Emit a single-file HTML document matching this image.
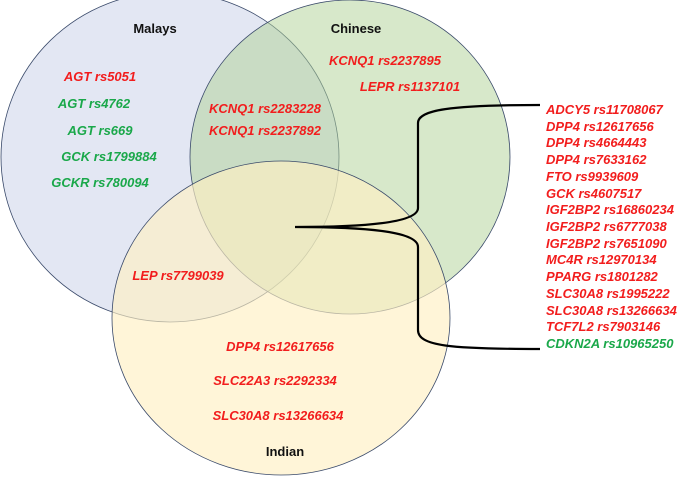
<!DOCTYPE html>
<html><head><meta charset="utf-8"><style>
html,body{margin:0;padding:0;background:#fff}
svg text{font-family:"Liberation Sans",Arial,sans-serif;font-weight:bold;font-size:13px}
.r{fill:#f21d1d;font-style:italic}
.g{fill:#1aa84a;font-style:italic}
.k{fill:#111}
</style></head><body>
<svg width="685" height="476" viewBox="0 0 685 476" xmlns="http://www.w3.org/2000/svg">
<ellipse cx="170" cy="157" rx="169" ry="165" fill="#e3e7f3" stroke="#3a4a6a" stroke-width="0.8"/>
<ellipse cx="350" cy="157" rx="160" ry="157" fill="rgb(175,210,150)" fill-opacity="0.5" stroke="#3a4a6a" stroke-width="0.8"/>
<ellipse cx="281" cy="318" rx="169" ry="157" fill="rgb(255,240,195)" fill-opacity="0.65" stroke="#3a4a6a" stroke-width="0.8"/>
<text class="k" x="155" y="33" text-anchor="middle">Malays</text>
<text class="k" x="356" y="33" text-anchor="middle">Chinese</text>
<text class="k" x="285" y="456" text-anchor="middle">Indian</text>
<g text-anchor="middle">
<text class="r" x="100" y="81">AGT rs5051</text>
<text class="g" x="94" y="108">AGT rs4762</text>
<text class="g" x="100" y="135">AGT rs669</text>
<text class="g" x="109" y="161">GCK rs1799884</text>
<text class="g" x="100" y="187">GCKR rs780094</text>
<text class="r" x="385" y="65">KCNQ1 rs2237895</text>
<text class="r" x="410" y="91">LEPR rs1137101</text>
<text class="r" x="265" y="113">KCNQ1 rs2283228</text>
<text class="r" x="265" y="135">KCNQ1 rs2237892</text>
<text class="r" x="178" y="280">LEP rs7799039</text>
<text class="r" x="280" y="351">DPP4 rs12617656</text>
<text class="r" x="275" y="385">SLC22A3 rs2292334</text>
<text class="r" x="278" y="420">SLC30A8 rs13266634</text>
</g>
<g>
<text class="r" x="546" y="114">ADCY5 rs11708067</text>
<text class="r" x="546" y="131">DPP4 rs12617656</text>
<text class="r" x="546" y="147">DPP4 rs4664443</text>
<text class="r" x="546" y="164">DPP4 rs7633162</text>
<text class="r" x="546" y="181">FTO rs9939609</text>
<text class="r" x="546" y="198">GCK rs4607517</text>
<text class="r" x="546" y="214">IGF2BP2 rs16860234</text>
<text class="r" x="546" y="231">IGF2BP2  rs6777038</text>
<text class="r" x="546" y="248">IGF2BP2 rs7651090</text>
<text class="r" x="546" y="264">MC4R rs12970134</text>
<text class="r" x="546" y="281">PPARG rs1801282</text>
<text class="r" x="546" y="298">SLC30A8 rs1995222</text>
<text class="r" x="546" y="315">SLC30A8 rs13266634</text>
<text class="r" x="546" y="331">TCF7L2 rs7903146</text>
<text class="g" x="546" y="348">CDKN2A rs10965250</text>
</g>
<path d="M540 105 C450 105 418 110 418 123 L418 208 C418 222 370 227 295 227 C370 227 418 232 418 247 L418 330 C418 346 450 349 540 349" fill="none" stroke="#000" stroke-width="2.2"/>
</svg>
</body></html>
